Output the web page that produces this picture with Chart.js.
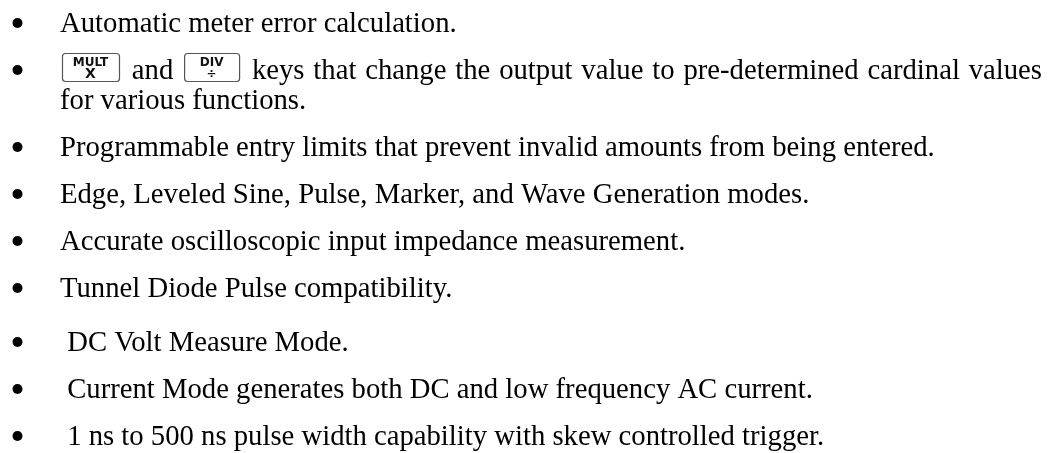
<!DOCTYPE html>
<html>
<head>
<meta charset="utf-8">
<script src="https://cdn.jsdelivr.net/npm/chart.js@4.4.1/dist/chart.umd.min.js"></script>
<style>
	html, body { margin: 0; padding: 0; background: #fff; }
	#wrap { width: 1049px; height: 453px; position: relative; }
</style>
</head>
<body>
<div id="wrap"><canvas id="list"></canvas></div>
<script>
// the list items, one array per bullet, one string per printed line
const items = [
	["Automatic meter error calculation."],
	["{MULT} and {DIV} keys that change the output value to pre-determined cardinal values", "for various functions."],
	["Programmable entry limits that prevent invalid amounts from being entered."],
	["Edge, Leveled Sine, Pulse, Marker, and Wave Generation modes."],
	["Accurate oscilloscopic input impedance measurement."],
	["Tunnel Diode Pulse compatibility."],
	[" DC Volt Measure Mode."],
	[" Current Mode generates both DC and low frequency AC current."],
	[" 1 ns to 500 ns pulse width capability with skew controlled trigger."]
];
// which block of the list each item belongs to
const groups = [0, 0, 0, 0, 0, 0, 1, 1, 1];
// key caps shown inline: top legend, bottom legend
const keyCaps = {
	MULT: ["MULT", "X"],
	DIV: ["DIV", "÷"]
};

const firstBaseline = 32, lineStep = 30, itemStep = 47, groupStep = 7;
const bulletX = 17.5, textX = 60, rightEdge = 1042, bulletRise = 9;

const baselines = [];
let cur = firstBaseline;
items.forEach((lines, i) => {
	if (i > 0) cur += itemStep + (groups[i] !== groups[i - 1] ? groupStep : 0);
	const b = lines.map((_, j) => cur + j * lineStep);
	baselines.push(b);
	cur = b[b.length - 1];
});

const textFont = '28.7px "Liberation Serif", "Times New Roman", serif';
const capFont = '"DejaVu Sans", sans-serif';

function keyWidth(cap) {
	return cap[0] === "MULT" ? 57 : 55;
}

function drawKey(ctx, x, base, cap) {
	const w = keyWidth(cap), h = 28, top = base - 26, r = 3;
	ctx.save();
	ctx.strokeStyle = "#555";
	ctx.lineWidth = 1.2;
	ctx.beginPath();
	ctx.roundRect(x + 0.5, top + 0.5, w, h, r);
	ctx.stroke();
	ctx.fillStyle = "#111";
	ctx.textAlign = "center";
	ctx.textBaseline = "alphabetic";
	ctx.font = "bold 12px " + capFont;
	ctx.fillText(cap[0], x + w / 2, top + 13);
	ctx.font = (cap[1] === "X" ? "bold 14px " : "bold 12px ") + capFont;
	ctx.fillText(cap[1], x + w / 2, top + 25);
	ctx.restore();
}

// splits a line into words and key caps, each with its natural width
function tokens(ctx, line) {
	const out = [];
	line.split(/(\{\w+\})/).forEach(part => {
		if (!part) return;
		const m = part.match(/^\{(\w+)\}$/);
		if (m) {
			out.push({ key: keyCaps[m[1]], w: keyWidth(keyCaps[m[1]]) + 6 });
		} else {
			part.split(/( )/).forEach(p => {
				if (p === "") return;
				out.push({ text: p, space: p === " ", w: ctx.measureText(p).width });
			});
		}
	});
	return out;
}

const listText = {
	id: "listText",
	afterDatasetsDraw(chart) {
		const { ctx, scales } = chart;
		const x0 = scales.x.getPixelForValue(textX);
		const x1 = scales.x.getPixelForValue(rightEdge);
		ctx.save();
		ctx.fillStyle = "#000";
		ctx.textBaseline = "alphabetic";
		ctx.textAlign = "left";
		ctx.font = textFont;
		items.forEach((lines, i) => {
			lines.forEach((line, j) => {
				const y = scales.y.getPixelForValue(baselines[i][j]);
				const toks = tokens(ctx, line);
				// justified paragraphs: every line but the last fills the column
				let extra = 0;
				if (j < lines.length - 1) {
					const natural = toks.reduce((s, t) => s + t.w, 0);
					const spaces = toks.filter(t => t.space).length;
					extra = spaces ? (x1 - x0 - natural) / spaces : 0;
				}
				let x = x0;
				toks.forEach(t => {
					if (t.key) {
						drawKey(ctx, x + 2, y, t.key);
					} else if (!t.space) {
						ctx.fillText(t.text, x, y);
					}
					x += t.w + (t.space ? extra : 0);
				});
			});
		});
		ctx.restore();
	}
};

new Chart(document.getElementById("list"), {
	type: "scatter",
	data: {
		datasets: [
			{
				label: "bullets",
				data: items.map((_, i) => ({ x: bulletX, y: baselines[i][0] - bulletRise })),
				backgroundColor: "#000",
				borderColor: "#000",
				borderWidth: 0,
				pointRadius: 5,
				pointHoverRadius: 5,
				clip: false
			}
		]
	},
	options: {
		responsive: true,
		maintainAspectRatio: false,
		animation: false,
		events: [],
		layout: { autoPadding: false, padding: 0 },
		plugins: {
			legend: { display: false },
			tooltip: { enabled: false }
		},
		scales: {
			x: { type: "linear", display: false, min: 0, max: 1049 },
			y: { type: "linear", display: false, min: 0, max: 453, reverse: true }
		}
	},
	plugins: [listText]
});
</script>
</body>
</html>
